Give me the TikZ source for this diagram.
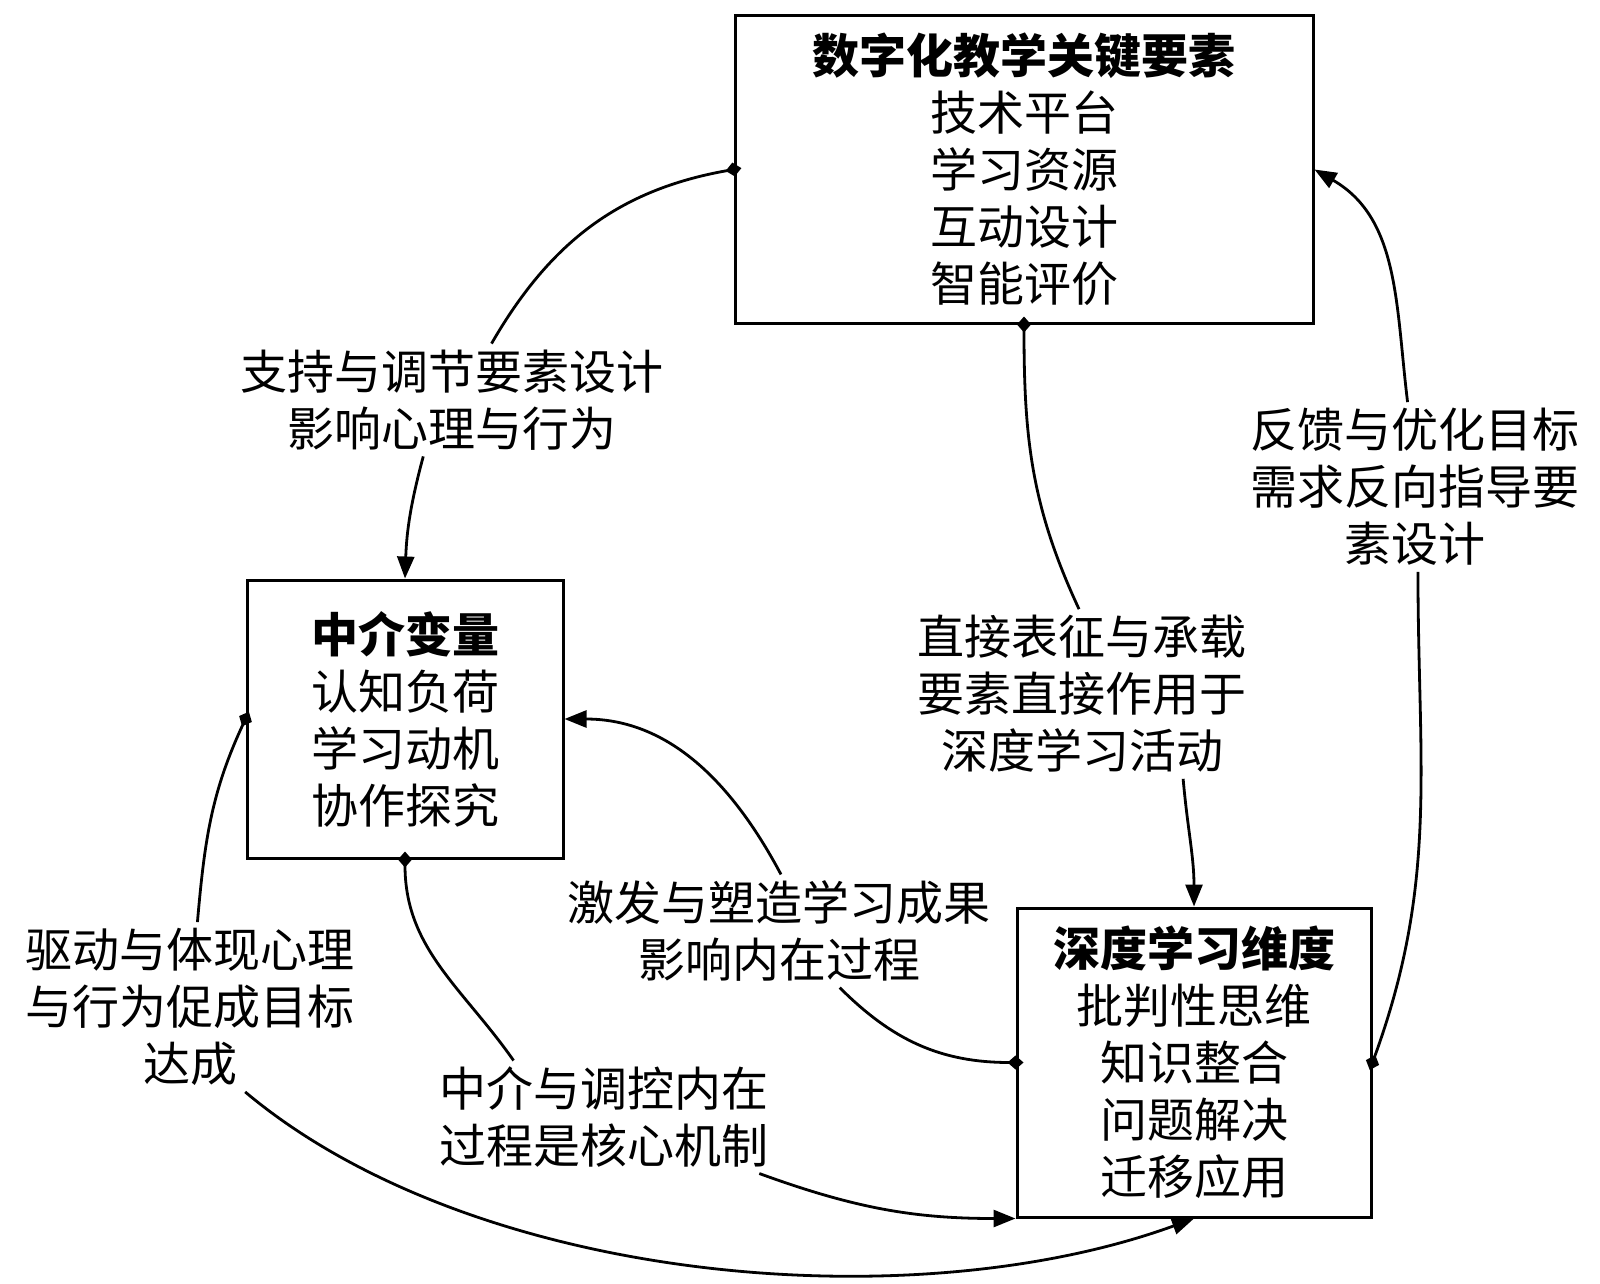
\documentclass[tikz,border=0pt]{standalone}
\usepackage{fontspec}
\setmainfont{Noto Sans CJK SC}
\usetikzlibrary{arrows.meta}

\begin{document}
\begin{tikzpicture}[x=1pt,y=1pt,
    box/.style={draw,line width=3pt,align=center,inner sep=0pt,font=\fontsize{47}{57}\selectfont},
    lbl/.style={align=center,inner sep=6pt,font=\fontsize{47}{57}\selectfont},
    src/.style={line width=2.8pt,{Diamond[length=16pt,width=14pt]}-,shorten <=-8pt},
    dst/.style={line width=2.8pt,-{Triangle[length=22pt,width=17pt]}}]
      \useasboundingbox (0,0) rectangle (1600,-1284);

      \node[box,minimum width=578,minimum height=307] (1) at (1024,-169.5)
        {\bfseries 数字化教学关键要素\\技术平台\\学习资源\\互动设计\\智能评价};
      \node[box,minimum width=316,minimum height=278] (2) at (405,-719)
        {\bfseries 中介变量\\认知负荷\\学习动机\\协作探究};
      \node[box,minimum width=354,minimum height=309] (3) at (1194,-1062.5)
        {\bfseries 深度学习维度\\批判性思维\\知识整合\\问题解决\\迁移应用};

      \node[lbl] (4) at (452,-400) {支持与调节要素设计\\影响心理与行为};
      \node[lbl] (5) at (1082,-694) {直接表征与承载\\要素直接作用于\\深度学习活动};
      \node[lbl] (6) at (1415,-487) {反馈与优化目标\\需求反向指导要\\素设计};
      \node[lbl] (7) at (779,-931) {激发与塑造学习成果\\影响内在过程};
      \node[lbl] (8) at (604,-1117) {中介与调控内在\\过程是核心机制};
      \node[lbl] (9) at (190,-1007) {驱动与体现心理\\与行为促成目标\\达成};

      \draw[src] (1.west) to[out=190,in=60] (4.55);
      \draw[dst] (4.243) to[out=-105,in=88] (2.north);
      \draw[src] (1.south) to[out=-90,in=115] (5.92);
      \draw[dst] (5.-40) to[out=-85,in=90] (3.north);
      \draw[src] (3.east) to[out=70,in=-90] (6.-88);
      \draw[dst] (6.95) to[out=97,in=-30] (1.east);
      \draw[src] (3.west) to[out=180,in=-45] (7.-43);
      \draw[dst] (7.88) to[out=118,in=0] (2.east);
      \draw[src] (2.south) to[out=-90,in=125] (8.148);
      \draw[dst] (8.-20) to[out=-20,in=180] (3.south west);
      \draw[src] (2.west) to[out=-115,in=85] (9.85);
      \draw[dst] (9.-57) to[out=-40,in=200,looseness=0.8] (3.south);
    \end{tikzpicture}
\end{document}
